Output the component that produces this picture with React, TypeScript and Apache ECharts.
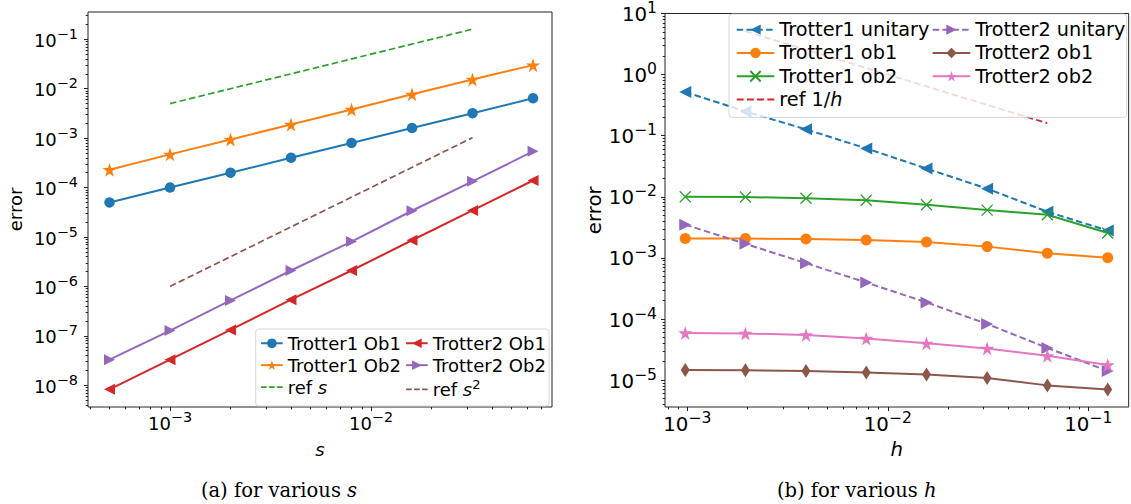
import { useEffect, useRef } from 'react';
import * as echarts from 'echarts';

// ---------- panel (a): error vs s ----------
const S_VALUES = [5e-4, 1e-3, 2e-3, 4e-3, 8e-3, 1.6e-2, 3.2e-2, 6.4e-2];
const A_TROTTER1_OB1 = [5.0e-5, 1.0e-4, 2.0e-4, 4.0e-4, 8.0e-4, 1.6e-3, 3.2e-3, 6.4e-3];
const A_TROTTER1_OB2 = [2.3e-4, 4.7e-4, 9.4e-4, 1.89e-3, 3.8e-3, 7.7e-3, 1.54e-2, 3.0e-2];
const A_TROTTER2_OB1 = [8.3e-9, 3.3e-8, 1.32e-7, 5.4e-7, 2.1e-6, 8.6e-6, 3.45e-5, 1.39e-4];
const A_TROTTER2_OB2 = [3.3e-8, 1.28e-7, 5.2e-7, 2.1e-6, 8.1e-6, 3.4e-5, 1.34e-4, 5.4e-4];
const S_REF = [1e-3, 3.2e-2];
const A_REF_S = [5e-3, 0.16];
const A_REF_S2 = [1e-6, 1.024e-3];

// ---------- panel (b): error vs h ----------
const H_VALUES = [9.77e-4, 1.95e-3, 3.91e-3, 7.81e-3, 1.56e-2, 3.13e-2, 6.25e-2, 0.125];
const B_T1_UNITARY = [0.52, 0.25, 0.127, 0.062, 0.029, 0.0136, 0.0057, 0.0028];
const B_T1_OB1 = [2.07e-3, 2.07e-3, 2.04e-3, 1.97e-3, 1.82e-3, 1.53e-3, 1.19e-3, 1.01e-3];
const B_T1_OB2 = [1.0e-2, 9.9e-3, 9.5e-3, 8.8e-3, 7.4e-3, 6.06e-3, 5.1e-3, 2.56e-3];
const H_REF = [1.95e-3, 6.25e-2];
const B_REF_H = [5.12, 0.16];
const B_T2_UNITARY = [3.5e-3, 1.7e-3, 8.2e-4, 3.96e-4, 1.87e-4, 8.3e-5, 3.37e-5, 1.41e-5];
const B_T2_OB1 = [1.46e-5, 1.45e-5, 1.41e-5, 1.33e-5, 1.24e-5, 1.08e-5, 8.2e-6, 7.05e-6];
const B_T2_OB2 = [5.9e-5, 5.8e-5, 5.5e-5, 4.8e-5, 4.0e-5, 3.3e-5, 2.5e-5, 1.77e-5];

// ---------- ticks and axis ranges ----------
const A_X_TICKS = [1e-3, 1e-2];
const A_Y_TICKS = [1e-8, 1e-7, 1e-6, 1e-5, 1e-4, 1e-3, 1e-2, 1e-1];
const B_X_TICKS = [1e-3, 1e-2, 1e-1];
const B_Y_TICKS = [1e-5, 1e-4, 1e-3, 1e-2, 1e-1, 1e0, 1e1];
const A_X_RANGE = [10 ** -3.408, 10 ** -1.0995];
const A_Y_RANGE = [10 ** -8.439, 10 ** -0.448];
const B_X_RANGE = [10 ** -3.111, 10 ** -0.7985];
const B_Y_RANGE = [10 ** -5.44, 10 ** 1.0001];

const FONT = 'DejaVu Sans';
const SERIF = 'DejaVu Serif';
const C = {
  blue: '#1f77b4', orange: '#ff7f0e', green: '#2ca02c', red: '#d62728',
  purple: '#9467bd', brown: '#8c564b', pink: '#e377c2',
};
const STAR = 'path://M50,0L61.2,34.5L97.6,34.5L68.2,55.9L79.4,90.5L50,69.1L20.6,90.5L31.8,55.9L2.4,34.5L38.8,34.5Z';
const XMARK = 'path://M0,0L10,10M10,0L0,10';
const DASH_A = 'path://M0,0h5.6v1.8h-5.6z M8,0h5.6v1.8h-5.6z M16,0h5.6v1.8h-5.6z';
const DASH_B = 'path://M0,0h7v1.9h-7z M10.2,0h7v1.9h-7z M20.4,0h7v1.9h-7z M30.6,0h7v1.9h-7z';
const LEGEND_LABEL: Record<string, string> = {
  'ref s': 'ref {i|s}',
  'ref s^2': 'ref {i|s}{sup|2}',
  'ref 1/h': 'ref 1/{i|h}',
};

function minorTicks(lo: number, hi: number) {
  const out: number[] = [];
  for (let e = Math.floor(Math.log10(lo)); e <= Math.ceil(Math.log10(hi)); e++) {
    for (let k = 2; k <= 9; k++) {
      const v = k * 10 ** e;
      if (v > lo && v < hi) out.push(v);
    }
  }
  return out;
}

function powLabel(v: number) {
  const e = Math.round(Math.log10(v));
  return `{b|10}{s|${e < 0 ? '\u2212' : ''}${Math.abs(e)}}`;
}

function labelRich(fs: number, sfs: number) {
  return {
    b: { fontFamily: FONT, fontSize: fs, color: '#000', padding: [2, 0, 0, 0] },
    s: { fontFamily: FONT, fontSize: sfs, color: '#000', padding: [0, 0, 11, 0] },
  };
}

const TICK_LINE = { color: '#222', width: 1 };

function axisPair(dim: 'x' | 'y', grid: number, range: number[], majors: number[], fs: number, sfs: number, name: string, nameGap: number, margin: number) {
  const main: any = {
    type: 'log', logBase: 10, gridIndex: grid, position: dim === 'x' ? 'bottom' : 'left',
    min: range[0], max: range[1],
    axisLine: { show: false }, splitLine: { show: false }, minorTick: { show: false },
    axisTick: { show: true, customValues: majors, length: 4, lineStyle: TICK_LINE },
    axisLabel: { customValues: majors, formatter: powLabel, rich: labelRich(fs, sfs), margin, color: '#000' },
    name, nameLocation: 'middle', nameGap,
    nameTextStyle: { fontFamily: FONT, fontSize: fs, color: '#000', fontStyle: dim === 'x' ? 'italic' : 'normal' },
  };
  if (dim === 'y') main.nameRotate = 90;
  const minor: any = {
    type: 'log', logBase: 10, gridIndex: grid, position: dim === 'x' ? 'bottom' : 'left',
    min: range[0], max: range[1],
    axisLine: { show: false }, splitLine: { show: false }, minorTick: { show: false },
    axisTick: { show: true, customValues: minorTicks(range[0], range[1]), length: 2.3, lineStyle: TICK_LINE },
    axisLabel: { show: false },
  };
  return [main, minor];
}

function line(name: string, xs: number[], ys: number[], color: string, axis: number, o: any = {}) {
  return {
    type: 'line', name, xAxisIndex: axis, yAxisIndex: axis,
    data: xs.map((x, i) => [x, ys[i]]),
    symbol: o.symbol ?? 'none', symbolSize: o.size ?? 10, symbolRotate: o.rotate ?? 0,
    showSymbol: !!o.symbol, symbolKeepAspect: false,
    lineStyle: { color, width: o.width ?? 2, type: o.dash ?? 'solid' },
    itemStyle: { color, borderColor: color, borderWidth: o.border ?? 0 },
    emphasis: { disabled: true }, z: 2, animation: false,
  };
}

function legendCol(names: string[], left: number, top: number, fs: number, sfs: number, lh: number, iw: number, ih: number, gap: number, icons: Record<string, string>) {
  return {
    orient: 'vertical', left, top, padding: 0, itemGap: gap, itemWidth: iw, itemHeight: ih,
    symbolKeepAspect: true, selectedMode: false,
    data: names.map((n) => (icons[n] ? { name: n, icon: icons[n] } : { name: n })),
    formatter: (n: string) => LEGEND_LABEL[n] ?? n,
    textStyle: {
      fontFamily: FONT, fontSize: fs, lineHeight: lh, color: '#000',
      rich: {
        i: { fontFamily: FONT, fontSize: fs, fontStyle: 'italic', color: '#000' },
        sup: { fontFamily: FONT, fontSize: sfs, color: '#000', padding: [0, 0, 10, 0] },
      },
    },
  };
}

const DASHED = [6.5, 3.3];

const option: any = {
  animation: false,
  grid: [
    { left: 88, top: 12, width: 464, height: 395, show: true, borderColor: '#222', borderWidth: 1, backgroundColor: 'transparent' },
    { left: 665, top: 12, width: 463.7, height: 395, show: true, borderColor: '#222', borderWidth: 1, backgroundColor: 'transparent' },
  ],
  xAxis: [
    ...axisPair('x', 0, A_X_RANGE, A_X_TICKS, 18, 14.4, 's', 33, 3),
    ...axisPair('x', 1, B_X_RANGE, B_X_TICKS, 19.8, 15.6, 'h', 30, 3),
  ],
  yAxis: [
    ...axisPair('y', 0, A_Y_RANGE, A_Y_TICKS, 18, 14.4, 'error', 64, 10),
    ...axisPair('y', 1, B_Y_RANGE, B_Y_TICKS, 19.8, 15.6, 'error', 61, 8),
  ],
  legend: [
    legendCol(['Trotter1 Ob1', 'Trotter1 Ob2', 'ref s'], 260.1, 334, 18, 13, 18.5, 21.6, 12, 3.4, { 'ref s': DASH_A }),
    legendCol(['Trotter2 Ob1', 'Trotter2 Ob2', 'ref s^2'], 405.1, 334, 18, 13, 18.5, 21.6, 12, 3.4, { 'ref s^2': DASH_A }),
    legendCol(['Trotter1 unitary', 'Trotter1 ob1', 'Trotter1 ob2', 'ref 1/h'], 735.7, 19.9, 19.3, 14, 19.5, 37.6, 13, 3.8, { 'ref 1/h': DASH_B }),
    legendCol(['Trotter2 unitary', 'Trotter2 ob1', 'Trotter2 ob2'], 931.7, 19.9, 19.3, 14, 19.5, 37.6, 13, 3.8, {}),
  ],
  series: [
    line('Trotter1 Ob1', S_VALUES, A_TROTTER1_OB1, C.blue, 0, { symbol: 'circle', size: 10.5 }),
    line('Trotter1 Ob2', S_VALUES, A_TROTTER1_OB2, C.orange, 0, { symbol: STAR, size: 14 }),
    line('ref s', S_REF, A_REF_S, C.green, 0, { dash: DASHED, width: 1.7 }),
    line('Trotter2 Ob1', S_VALUES, A_TROTTER2_OB1, C.red, 0, { symbol: 'triangle', size: 11, rotate: 90 }),
    line('Trotter2 Ob2', S_VALUES, A_TROTTER2_OB2, C.purple, 0, { symbol: 'triangle', size: 11, rotate: -90 }),
    line('ref s^2', S_REF, A_REF_S2, C.brown, 0, { dash: DASHED, width: 1.7 }),

    line('Trotter1 unitary', H_VALUES, B_T1_UNITARY, C.blue, 2, { symbol: 'triangle', size: 12, rotate: 90, dash: DASHED }),
    line('Trotter1 ob1', H_VALUES, B_T1_OB1, C.orange, 2, { symbol: 'circle', size: 11 }),
    line('Trotter1 ob2', H_VALUES, B_T1_OB2, C.green, 2, { symbol: XMARK, size: 11, border: 1.3 }),
    line('ref 1/h', H_REF, B_REF_H, C.red, 2, { dash: DASHED, width: 1.7 }),
    line('Trotter2 unitary', H_VALUES, B_T2_UNITARY, C.purple, 2, { symbol: 'triangle', size: 12, rotate: -90, dash: DASHED }),
    line('Trotter2 ob1', H_VALUES, B_T2_OB1, C.brown, 2, { symbol: 'diamond', size: [9, 14] }),
    line('Trotter2 ob2', H_VALUES, B_T2_OB2, C.pink, 2, { symbol: STAR, size: 14 }),
  ],
  graphic: [
    { type: 'rect', z: 3, shape: { x: 255.7, y: 329, width: 293.3, height: 77, r: 3 }, style: { fill: 'rgba(255,255,255,0.8)', stroke: 'rgba(204,204,204,0.8)', lineWidth: 1 } },
    { type: 'rect', z: 3, shape: { x: 729, y: 14, width: 397.7, height: 103.3, r: 3 }, style: { fill: 'rgba(255,255,255,0.8)', stroke: 'rgba(204,204,204,0.8)', lineWidth: 1 } },
    {
      type: 'text', x: 279, y: 490, z: 5,
      style: {
        text: '(a) for various {i|s}', fontFamily: SERIF, fontSize: 19.5, fill: '#000', align: 'center', verticalAlign: 'middle',
        rich: { i: { fontFamily: SERIF, fontSize: 19.5, fontStyle: 'italic', fill: '#000' } },
      },
    },
    {
      type: 'text', x: 856.7, y: 490, z: 5,
      style: {
        text: '(b) for various {i|h}', fontFamily: SERIF, fontSize: 19.5, fill: '#000', align: 'center', verticalAlign: 'middle',
        rich: { i: { fontFamily: SERIF, fontSize: 19.5, fontStyle: 'italic', fill: '#000' } },
      },
    },
  ],
};

export default function App() {
  const ref = useRef<HTMLDivElement>(null);
  useEffect(() => {
    if (!ref.current) return;
    const chart = echarts.init(ref.current, null, { renderer: 'svg' });
    chart.setOption(option);
    return () => chart.dispose();
  }, []);
  return <div ref={ref} style={{ position: 'absolute', left: 0, top: 0, width: 1131, height: 504, background: '#fff' }} />;
}
